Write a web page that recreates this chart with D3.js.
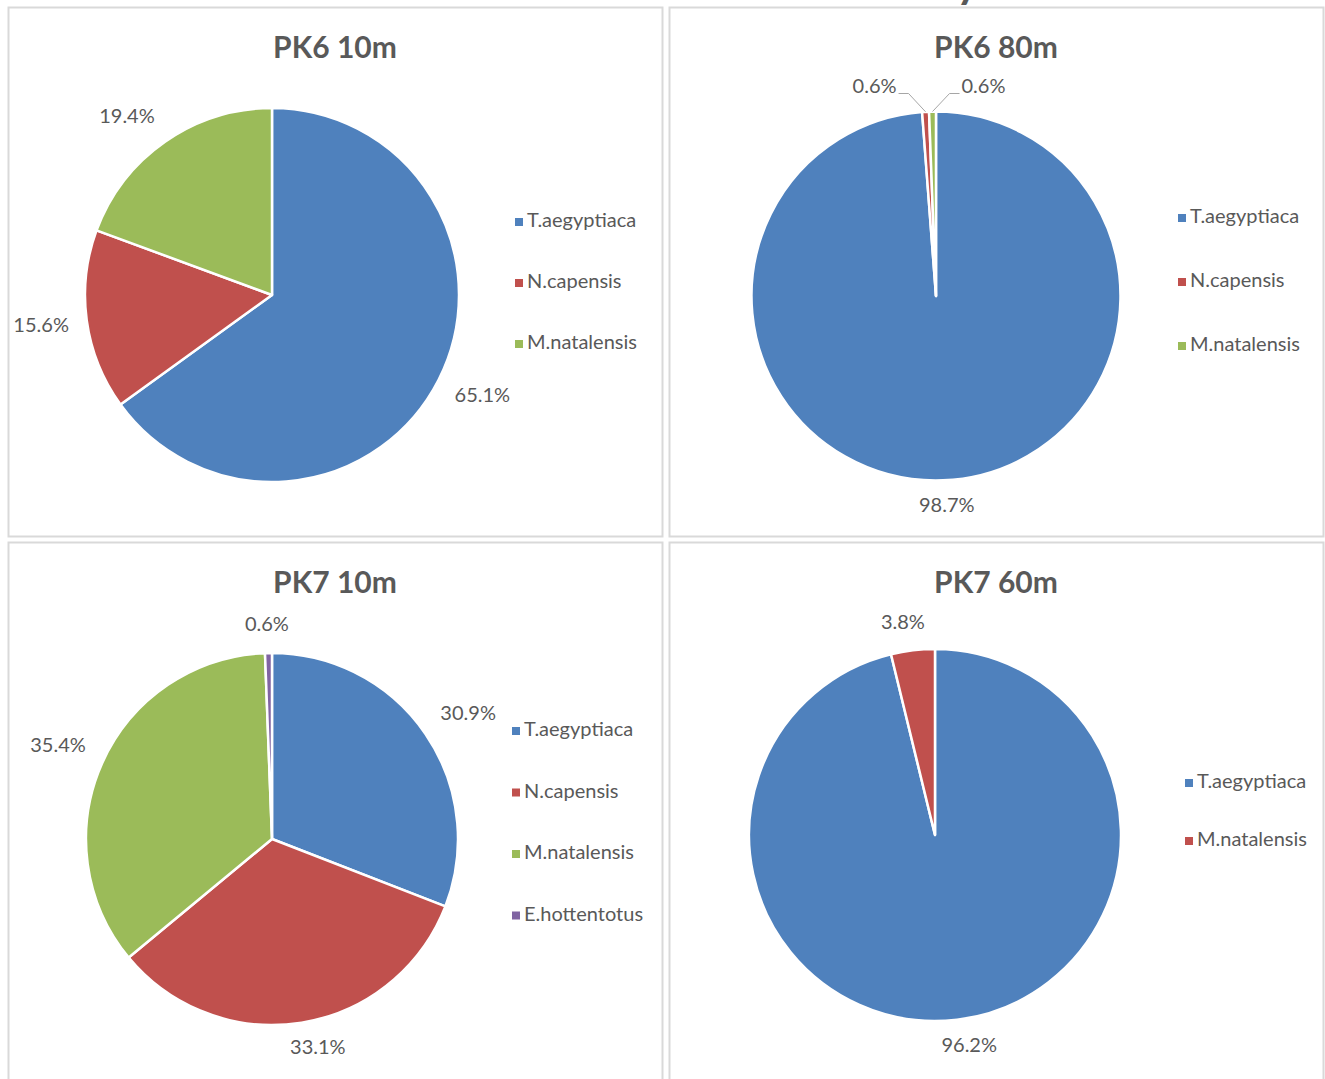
<!DOCTYPE html>
<html>
<head>
<meta charset="utf-8">
<script src="https://cdn.jsdelivr.net/npm/d3@7"></script>
<style>
  body { margin: 0; background: #fff; }
  svg { display: block; font-family: Lato, "Open Sans", sans-serif; }
</style>
</head>
<body>
<div id="chart"></div>
<script>
// data
var titles = ["PK6 10m", "PK6 80m", "PK7 10m", "PK7 60m"];
var species3 = ["T.aegyptiaca", "N.capensis", "M.natalensis"];
var species4 = ["T.aegyptiaca", "N.capensis", "M.natalensis", "E.hottentotus"];
var species2 = ["T.aegyptiaca", "M.natalensis"];
var pk6_10m = [65.1, 15.6, 19.4];
var pk6_80m = [98.7, 0.6, 0.6];
var pk7_10m = [30.9, 33.1, 35.4, 0.6];
var pk7_60m = [96.2, 3.8];

var colors = ["#4F81BD", "#C0504D", "#9BBB59", "#8064A2"];
var textColor = "#595959";

var W = 1325, H = 1079;
var svg = d3.select("#chart").append("svg").attr("width", W).attr("height", H);

// main title sits above the visible area, only a descender shows
svg.append("text").attr("x", 956).attr("y", -2)
   .attr("font-size", 44).attr("font-weight", "bold").attr("fill", textColor)
   .text("y");

// panel layout: box, pie centre (relative), radius, legend position
var panels = [
  {x: 8,   y: 7,   w: 654, h: 529, cx: 264, cy: 288, r: 187, lx: 507, ly: 215, ls: 61,
   names: species3, values: pk6_10m, colorIdx: [0, 1, 2]},
  {x: 669, y: 7,   w: 654, h: 529, cx: 267, cy: 289, r: 184.5, lx: 509, ly: 211, ls: 64,
   names: species3, values: pk6_80m, colorIdx: [0, 1, 2], leaders: true},
  {x: 8,   y: 542, w: 654, h: 545, cx: 264, cy: 297, r: 186, lx: 504, ly: 189, ls: 61.5,
   names: species4, values: pk7_10m, colorIdx: [0, 1, 2, 3]},
  {x: 669, y: 542, w: 654, h: 545, cx: 266, cy: 293, r: 186, lx: 516, ly: 241, ls: 58,
   names: species2, values: pk7_60m, colorIdx: [0, 1]}
];

var pie = d3.pie().sort(null).value(function(d) { return d; });
var labelSize = 20;
var clamp = function(v) { return Math.max(-1, Math.min(1, v)); };

panels.forEach(function(p, i) {
  var g = svg.append("g").attr("transform", "translate(" + p.x + "," + p.y + ")");

  g.append("rect")
    .attr("x", 0.5).attr("y", 0.5)
    .attr("width", p.w).attr("height", p.h)
    .attr("fill", "#fff").attr("stroke", "#d9d9d9").attr("stroke-width", 2);

  g.append("text")
    .attr("x", p.w / 2).attr("y", 51)
    .attr("text-anchor", "middle")
    .attr("font-size", 30).attr("font-weight", "bold")
    .attr("fill", textColor)
    .text(titles[i]);

  var arc = d3.arc().innerRadius(0).outerRadius(p.r);
  var arcs = pie(p.values);
  var pg = g.append("g").attr("transform", "translate(" + p.cx + "," + p.cy + ")");

  pg.selectAll("path")
    .data(arcs)
    .enter()
    .append("path")
    .attr("d", arc)
    .attr("fill", function(d, j) { return colors[p.colorIdx[j]]; })
    .attr("stroke", "#fff")
    .attr("stroke-width", 2.5)
    .attr("stroke-linejoin", "round");

  // data labels, outside end (box corner sits just past the rim)
  arcs.forEach(function(d, j) {
    var a = (d.startAngle + d.endAngle) / 2;
    var sx = Math.sin(a), sy = -Math.cos(a);
    var txt = d.data.toFixed(1) + "%";

    if (p.leaders && j > 0) {
      // tiny slices pushed apart, with leader lines
      var side = j === 1 ? -1 : 1;
      var ex = sx * p.r, ey = sy * p.r;
      var ty = -p.r - 18;
      var bx = ex + side * 17;
      var tx = bx + side * 10;
      pg.append("path")
        .attr("d", "M" + ex + "," + ey + "L" + bx + "," + ty + "L" + tx + "," + ty)
        .attr("fill", "none").attr("stroke", "#a6a6a6").attr("stroke-width", 1);
      pg.append("text")
        .attr("x", tx + side * 2).attr("y", ty - 6)
        .attr("text-anchor", side < 0 ? "end" : "start")
        .attr("dominant-baseline", "middle")
        .attr("font-size", labelSize).attr("fill", textColor)
        .text(txt);
      return;
    }

    var t = pg.append("text")
      .attr("text-anchor", "middle")
      .attr("dominant-baseline", "middle")
      .attr("font-size", labelSize).attr("fill", textColor)
      .text(txt);
    var tw = t.node().getComputedTextLength(), th = 18;
    var px = sx * (p.r + 18), py = sy * (p.r + 18);
    t.attr("x", px + clamp(sx * 3) * tw / 2)
     .attr("y", py + clamp(sy * 3) * th / 2);
  });

  // legend
  var lg = g.append("g").attr("transform", "translate(" + p.lx + "," + p.ly + ")");
  p.names.forEach(function(n, j) {
    var row = lg.append("g").attr("transform", "translate(0," + (j * p.ls) + ")");
    row.append("rect")
      .attr("x", 0).attr("y", -4).attr("width", 8).attr("height", 8)
      .attr("fill", colors[p.colorIdx[j]]);
    row.append("text")
      .attr("x", 12).attr("y", 0)
      .attr("dominant-baseline", "middle")
      .attr("font-size", labelSize).attr("fill", textColor)
      .text(n);
  });
});
</script>
</body>
</html>
